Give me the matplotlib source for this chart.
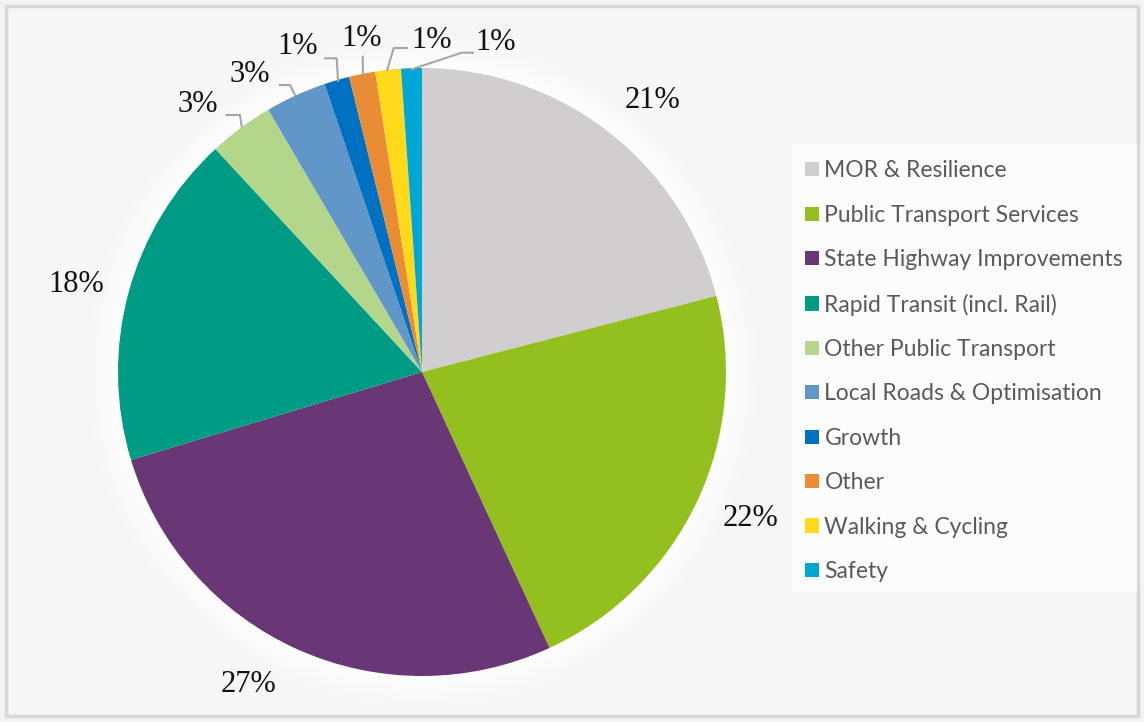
import matplotlib.pyplot as plt
from matplotlib.patches import Circle, Rectangle
import numpy as np

categories = ["MOR & Resilience", "Public Transport Services", "State Highway Improvements",
              "Rapid Transit (incl. Rail)", "Other Public Transport", "Local Roads & Optimisation",
              "Growth", "Other", "Walking & Cycling", "Safety"]
values = [20.97, 22.14, 27.22, 17.78, 3.45, 3.25, 1.34, 1.39, 1.36, 1.10]
colors = ["#d0cece", "#93c01f", "#6a3776", "#009b85", "#b3d68a",
          "#6196c8", "#0070c0", "#e98c35", "#ffd91a", "#00a6d6"]

W, H = 1144, 722
fig = plt.figure(figsize=(W / 100, H / 100), dpi=100)
fig.patch.set_facecolor("#f4f4f4")

# background and thin border
bg = fig.add_axes([0, 0, 1, 1])
bg.set_xlim(0, W)
bg.set_ylim(H, 0)
bg.axis("off")
bg.add_patch(Rectangle((6, 6), W - 12, H - 12, facecolor="#f6f6f6", edgecolor="#d8d8d8",
                       lw=2.5, zorder=0))
# legend box
bg.add_patch(Rectangle((792, 144), 345, 447, facecolor="#fcfcfc", edgecolor="none", zorder=1))

cx, cy, r = 422, 372, 304
ax = fig.add_axes([(cx - r) / W, (H - cy - r) / H, 2 * r / W, 2 * r / H])

# soft white glow around pie
for k, a in zip(np.linspace(1.12, 1.01, 8), np.linspace(0.08, 0.35, 8)):
    ax.add_patch(Circle((0, 0), k, facecolor="white", edgecolor="none", alpha=a, zorder=0,
                        clip_on=False))

wedges, _ = ax.pie(values, colors=colors, startangle=90, counterclock=False, radius=1,
                   wedgeprops=dict(linewidth=0), frame=False)
for w in wedges:
    w.set_zorder(2)
ax.set_xlim(-1, 1)
ax.set_ylim(-1, 1)
ax.set_aspect("equal")
ax.axis("off")

labels = ["%d%%" % round(v) for v in values]


def px(x, y):
    return ((x - cx) / r, (cy - y) / r)


label_pos = [(652, 100), (750, 518), (248, 685), (76, 284), (198, 104),
             (250, 75), (298, 46), (362, 38), (432, 40), (496, 42)]
for lab, (lx, ly) in zip(labels, label_pos):
    x, y = px(lx, ly)
    ax.text(x, y, lab, ha="center", va="center", fontsize=22, family="Liberation Serif",
            color="#111111", clip_on=False, zorder=5)

leaders = [
    [(241.7, 126.7), (240, 115), (226.7, 115)],
    [(295, 95), (290, 85), (280, 85)],
    [(338, 80.7), (336.7, 58.3), (325, 58.3)],
    [(363, 75), (362.7, 56.7)],
    [(387.3, 70), (393.7, 48), (407, 48)],
    [(411.7, 69.3), (461.7, 52.7), (473, 52.7)],
]
for pts in leaders:
    xs, ys = zip(*[px(a, b) for a, b in pts])
    ax.plot(xs, ys, color="#a6a6a6", lw=1.5, clip_on=False, zorder=4)

# legend
handles = [Rectangle((0, 0), 1, 1, facecolor=c, edgecolor="none") for c in colors]
leg = fig.legend(handles, categories, loc="upper left", bbox_to_anchor=(794 / W, 1 - 149 / H),
                 frameon=False, handlelength=0.58, handleheight=0.58,
                 handletextpad=0.25, labelspacing=1.02, borderpad=0,
                 prop=dict(family="Lato", size=16.5))
for t in leg.get_texts():
    t.set_color("#5a5a5a")

fig.savefig("out.png", dpi=100, facecolor=fig.get_facecolor())
